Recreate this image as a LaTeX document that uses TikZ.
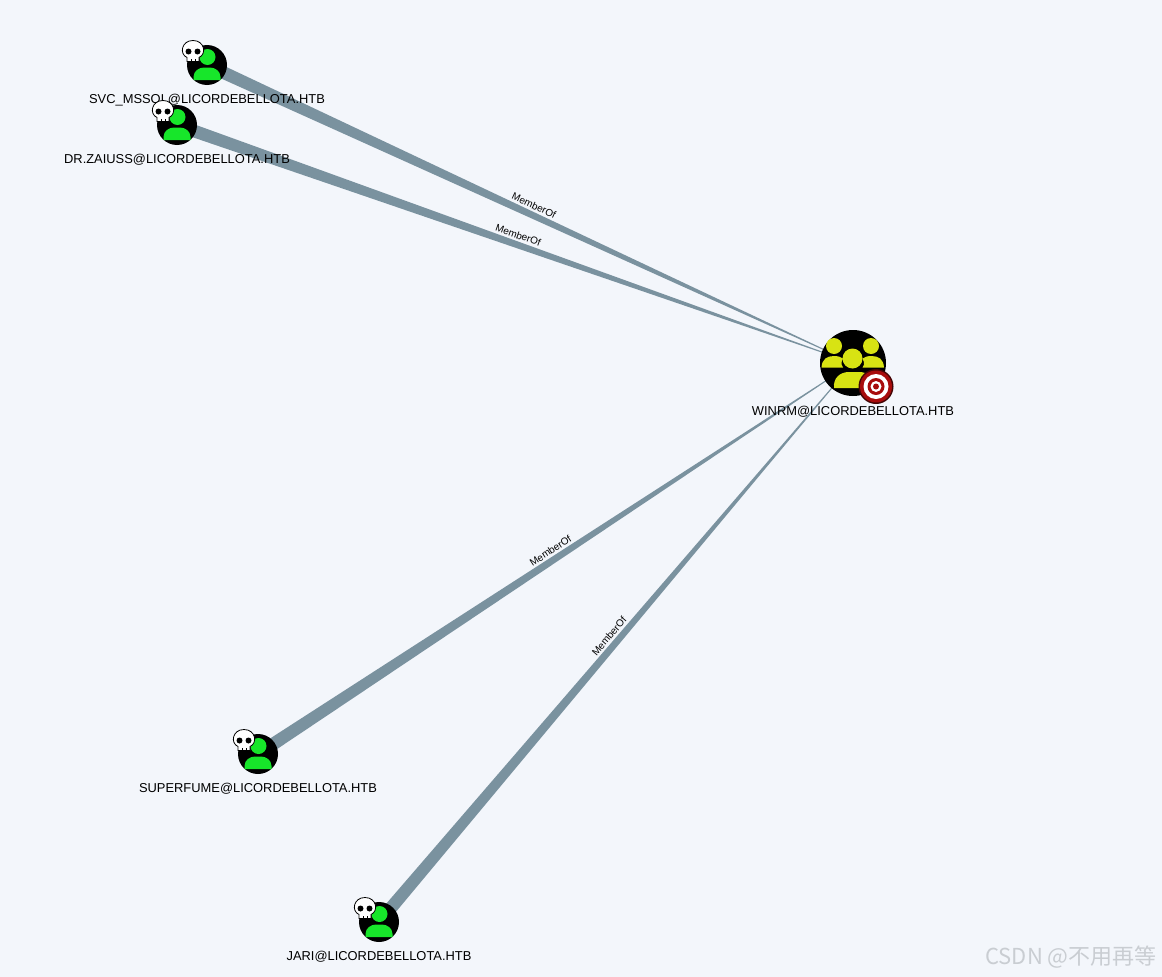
\documentclass[tikz,border=0pt]{standalone}
\usepackage{fontspec}
\setmainfont{Liberation Sans}
\newfontfamily\cjkfont{Noto Sans CJK SC}
\usetikzlibrary{calc,positioning,backgrounds}
\definecolor{canvasblue}{HTML}{F3F6FB}
\definecolor{edgeslate}{HTML}{7A929F}
\definecolor{ownedgreen}{HTML}{17E62A}
\definecolor{groupyellow}{HTML}{D8E313}
\definecolor{targetred}{HTML}{A80C0C}
\definecolor{markgrey}{HTML}{C9CDD2}
% edge that narrows from source to target
\newcommand{\memberedge}[2]{
	\fill[edgeslate] ($(#1)!6.5pt!90:(#2)$) -- ($(#2)!0.25pt!-90:(#1)$) -- ($(#2)!0.25pt!90:(#1)$) -- ($(#1)!6.5pt!-90:(#2)$) -- cycle;
	\path (#1) -- node[edgelabel] {MemberOf} (#2);
}
\begin{document}
\begin{tikzpicture}[x=1pt,y=-1pt,
	usernode/.style={circle, fill=black, minimum size=40pt, inner sep=0pt, outer sep=0pt},
	groupnode/.style={circle, fill=black, minimum size=66pt, inner sep=0pt, outer sep=0pt},
	hostlabel/.style={font=\fontsize{12.9pt}{14pt}\selectfont, inner sep=0pt, text height=10pt, text depth=3pt},
	edgelabel/.style={font=\fontsize{10pt}{11pt}\selectfont, sloped, above, pos=0.51, inner sep=5.5pt},
	usericon/.pic={
		\fill[ownedgreen] (0.5,-8) circle (8);
		\fill[ownedgreen] (-13.5,15) -- (-13.5,12) .. controls (-13.5,6) and (-8,2.5) .. (-3,2.5) -- (3,2.5) .. controls (8,2.5) and (13.5,6) .. (13.5,12) -- (13.5,15) -- cycle;
	},
	skullicon/.pic={
		\draw[fill=white, line width=0.8pt] (-6,10.5) -- (-6,6.5) .. controls (-14,3) and (-11.5,-10.5) .. (0,-10.5) .. controls (11.5,-10.5) and (14,3) .. (6,6.5) -- (6,10.5) -- cycle;
		\fill (-4.5,0.5) circle (3);
		\fill (4.5,0.5) circle (3);
		\draw[line width=0.4pt] (-2,8) -- (-2,10.5) (2,8) -- (2,10.5);
	},
	groupicon/.pic={
		\fill[groupyellow] (-31.5,4.5) .. controls (-31,-4) and (-26,-7) .. (-19,-7) .. controls (-15,-7) and (-12,-6) .. (-10,-4.5) .. controls (-13,1) and (-11,3) .. (-10,4.5) -- cycle;
		\fill[groupyellow] (31,4.5) .. controls (30.5,-4) and (25.5,-7) .. (18.5,-7) .. controls (14.5,-7) and (11.5,-6) .. (9.5,-4.5) .. controls (12.5,1) and (10.5,3) .. (9.5,4.5) -- cycle;
		\fill[groupyellow] (-19,-17) circle (8);
		\fill[groupyellow] (18,-17) circle (8);
		\fill[groupyellow] (-0.5,-4.5) circle (10);
		\fill[groupyellow] (-19,25) .. controls (-20,15) and (-13,9) .. (-4,9) -- (8,9) .. controls (15,9) and (19,15) .. (19,25) -- cycle;
	},
	targeticon/.pic={
		\fill[black!60!targetred] (0,0) circle (17.5);
		\fill[targetred] (0,0) circle (16);
		\fill[white] (0,0) circle (12.5);
		\fill[targetred] (0,0) circle (8.5);
		\fill[white] (0,0) circle (5.5);
		\fill[targetred] (0,0) circle (3);
	}
	]
	\useasboundingbox (0,0) rectangle (1162,977);
	\node[groupnode] (winrm) at (853,363) {};
	\pic at (winrm) {groupicon};
	\pic at ($(winrm)+(23,23.5)$) {targeticon};
	\node[hostlabel, below=9.5pt of winrm] (winrmlabel) {WINRM@LICORDEBELLOTA.HTB};
	\foreach \name/\x/\y/\host in {svc/207/65/SVC\_MSSQL@LICORDEBELLOTA.HTB, zaiuss/177/125/DR.ZAIUSS@LICORDEBELLOTA.HTB, superfume/258/754/SUPERFUME@LICORDEBELLOTA.HTB, jari/379/922/JARI@LICORDEBELLOTA.HTB} {
		\node[usernode] (\name) at (\x,\y) {};
		\pic at (\name) {usericon};
		\pic at ($(\name)+(-14,-14)$) {skullicon};
		\node[hostlabel, below=8pt of \name] (\name label) {\host};
	}
	\node[text=markgrey, font=\cjkfont\fontsize{22pt}{24pt}\selectfont, inner sep=0pt] (mark) at (1071,957) {CSDN @不用再等};
	\begin{scope}[on background layer]
		\fill[canvasblue] (0,0) rectangle (1162,977);
		\memberedge{svc}{winrm}
		\memberedge{zaiuss}{winrm}
		\memberedge{superfume}{winrm}
		\memberedge{jari}{winrm}
	\end{scope}
\end{tikzpicture}
\end{document}
